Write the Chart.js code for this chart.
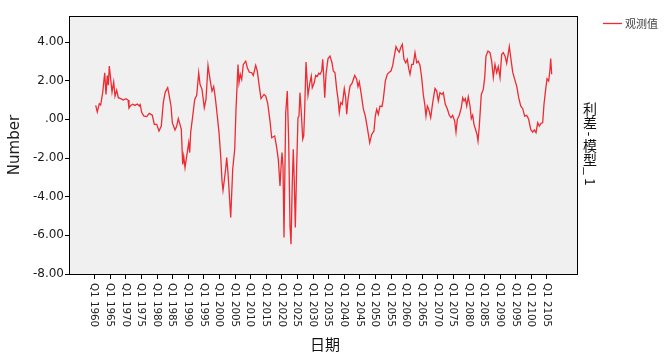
<!DOCTYPE html>
<html><head><meta charset="utf-8">
<script src="https://cdn.jsdelivr.net/npm/chart.js@4"></script>
<style>html,body{margin:0;padding:0;background:#fff}canvas{display:block}</style>
</head><body>
<canvas id="c" width="665" height="357"></canvas>
<script>
// ---- data ----
const years = [1960.33,1960.84,1961.48,1961.93,1962.57,1963.22,1963.63,1964.05,1964.37,1964.69,1965.14,1965.56,1966.1,1966.52,1967.06,1967.58,1968.34,1969.18,1970.04,1970.69,1971.0,1971.55,1972.19,1972.93,1973.67,1974.31,1974.53,1975.08,1975.81,1976.68,1977.51,1978.47,1979.12,1979.89,1980.62,1981.36,1982.0,1982.64,1983.41,1983.92,1984.47,1984.89,1985.75,1986.3,1986.81,1987.35,1987.77,1988.22,1988.54,1988.96,1989.5,1990.14,1990.46,1990.78,1991.43,1992.07,1992.71,1993.35,1993.77,1994.41,1995.14,1995.69,1996.33,1996.97,1997.61,1998.16,1998.67,1999.31,1999.86,2000.4,2000.82,2001.14,2001.46,2002.0,2002.32,2002.74,2003.61,2004.25,2004.89,2005.31,2005.95,2006.27,2006.68,2007.13,2007.65,2008.42,2008.93,2009.57,2010.34,2010.85,2011.62,2012.13,2012.68,2013.32,2014.28,2014.83,2015.47,2016.21,2016.75,2017.71,2018.35,2018.87,2019.41,2019.73,2020.05,2020.37,2020.69,2021.24,2021.75,2022.2,2022.62,2022.94,2023.35,2023.67,2024.0,2024.32,2024.76,2025.18,2025.5,2025.82,2026.24,2026.69,2027.01,2027.33,2027.75,2028.39,2029.03,2029.44,2029.76,2030.41,2030.85,2031.37,2031.82,2032.23,2032.78,2033.1,2033.42,2033.74,2034.16,2034.8,2035.44,2036.08,2036.5,2037.04,2037.59,2038.0,2038.42,2038.87,2039.38,2040.02,2040.47,2040.79,2041.21,2041.85,2042.49,2043.36,2044.0,2044.41,2044.83,2045.47,2046.11,2046.76,2047.4,2048.17,2048.81,2049.54,2049.96,2050.41,2050.92,2051.47,2052.11,2052.52,2053.17,2053.81,2054.45,2054.99,2055.54,2056.05,2056.6,2057.14,2057.65,2058.1,2058.62,2059.16,2059.71,2060.22,2060.67,2061.09,2061.63,2062.14,2062.69,2063.23,2063.74,2064.29,2064.83,2065.35,2065.8,2066.21,2066.63,2067.08,2067.72,2068.36,2069.1,2069.64,2070.16,2070.7,2071.34,2071.76,2072.4,2073.04,2073.68,2074.23,2074.77,2075.41,2075.83,2076.25,2076.89,2077.53,2077.98,2078.4,2078.81,2079.26,2079.77,2080.32,2080.74,2081.18,2081.6,2082.15,2082.56,2082.88,2083.3,2083.94,2084.58,2085.03,2085.45,2086.09,2086.73,2087.27,2087.79,2088.33,2088.88,2089.39,2089.94,2090.48,2091.0,2091.54,2092.08,2092.92,2093.46,2094.01,2094.65,2095.29,2095.93,2096.57,2097.21,2097.85,2098.49,2099.13,2099.78,2100.42,2100.93,2101.48,2102.02,2102.53,2103.08,2103.62,2104.04,2104.58,2105.0,2105.54,2105.96,2106.19,2106.51];
const values = [0.72,0.38,0.81,0.74,1.38,2.41,1.29,2.27,1.76,2.76,2.07,1.41,1.93,1.2,1.51,1.12,1.07,1.0,1.07,1.0,0.58,0.72,0.78,0.72,0.79,0.69,0.81,0.35,0.17,0.14,0.31,0.21,-0.26,-0.26,-0.6,-0.35,0.86,1.41,1.64,1.2,0.69,-0.17,-0.55,-0.35,0.04,-0.26,-0.52,-2.33,-1.9,-2.5,-1.9,-1.21,-1.72,-0.66,0.17,1.03,1.24,2.41,1.81,1.55,0.6,1.03,2.79,2.07,1.46,1.69,1.12,0.17,-0.69,-1.9,-3.19,-3.67,-3.27,-2.55,-1.98,-2.76,-5.08,-2.58,-1.55,0.52,2.84,1.9,2.33,2.07,2.84,3.01,2.67,2.44,2.41,2.27,2.79,2.5,1.81,1.07,1.29,1.2,0.83,-0.09,-0.95,-0.86,-1.46,-2.07,-3.45,-2.5,-1.72,-2.41,-6.11,0.35,1.46,-1.21,-5.51,-6.46,-3.27,-1.55,-3.27,-5.6,-2.41,0.09,0.17,1.38,0.35,-1.03,-0.86,0.52,2.96,1.24,1.93,2.24,1.64,1.9,2.27,2.21,2.38,2.33,2.5,3.1,2.24,1.12,2.33,3.14,3.27,2.93,2.5,2.41,1.55,1.07,0.35,0.86,0.78,1.59,1.12,0.26,1.03,1.72,1.86,2.27,2.07,1.69,1.93,1.29,0.55,0.17,-0.43,-1.21,-0.78,-0.6,0.17,0.52,0.26,0.69,0.66,1.03,1.98,2.33,2.44,2.5,2.79,3.27,3.76,3.58,3.48,3.7,3.88,3.1,2.93,3.1,2.62,2.33,2.84,2.84,3.45,2.93,3.01,2.79,2.16,1.29,0.78,0.17,0.69,0.52,0.09,0.86,1.59,1.46,0.95,1.38,1.29,1.38,0.78,0.55,0.21,0.09,0.21,-0.09,-0.66,0,0.21,0.6,1.12,0.95,1.07,0.69,1.17,0.69,0.04,0.21,-0.26,-0.55,-0.78,-1.12,-0.35,1.29,1.55,2.16,3.27,3.53,3.45,3.01,2.16,2.84,2.41,2.72,2.16,3.36,3.45,3.27,2.9,3.76,3.1,2.44,2.07,1.72,1.12,0.69,0.55,0.17,0.21,0,-0.52,-0.66,-0.55,-0.69,-0.17,-0.35,-0.21,-0.17,0.78,1.55,2.1,1.98,2.58,3.14,2.33];
const tickYears = [1960,1965,1970,1975,1980,1985,1990,1995,2000,2005,2010,2015,2020,2025,2030,2035,2040,2045,2050,2055,2060,2065,2070,2075,2080,2085,2090,2095,2100,2105];
const tickLabels = ['Q1 1960','Q1 1965','Q1 1970','Q1 1975','Q1 1980','Q1 1985','Q1 1990','Q1 1995','Q1 2000','Q1 2005','Q1 2010','Q1 2015','Q1 2020','Q1 2025','Q1 2030','Q1 2035','Q1 2040','Q1 2045','Q1 2050','Q1 2055','Q1 2060','Q1 2065','Q1 2070','Q1 2075','Q1 2080','Q1 2085','Q1 2090','Q1 2095','Q1 2100','Q1 2105'];
const yTickValues = [-8,-6,-4,-2,0,2,4];
const yTickLabels = ['-8.00','-6.00','-4.00','-2.00','.00','2.00','4.00'];
const seriesName = '观测值';
const xTitle = '日期';
const yTitle = 'Number';
const rightTitle = '利差-模型_1';

// ---- drawing ----
const LINE_COLOR = '#EE2A33';
const CJK = '"Noto Sans CJK SC", "Noto Sans CJK JP", sans-serif';
const points = years.map((x, i) => ({x: x, y: values[i]}));

const deco = {
  id: 'deco',
  beforeDraw(chart) {
    const {ctx, chartArea: a} = chart;
    ctx.save();
    ctx.fillStyle = '#ffffff';
    ctx.fillRect(0, 0, chart.width, chart.height);
    ctx.fillStyle = '#F0F0F0';
    ctx.fillRect(a.left, a.top, a.right - a.left, a.bottom - a.top);
    ctx.restore();
  },
  afterDraw(chart) {
    const {ctx, chartArea: a} = chart;
    const xs = chart.scales.x;
    ctx.save();
    // frame
    ctx.strokeStyle = '#000';
    ctx.lineWidth = 1;
    const l = Math.round(a.left) + 0.5, t = Math.round(a.top) + 0.5;
    const r = Math.round(a.right) + 0.5, b = Math.round(a.bottom) + 0.5;
    ctx.strokeRect(l, t, r - l, b - t);
    // rotated x tick labels (reading downward)
    ctx.fillStyle = '#222';
    ctx.font = '10.3px "DejaVu Sans", sans-serif';
    ctx.textAlign = 'left';
    ctx.textBaseline = 'middle';
    tickYears.forEach((v, i) => {
      const px = xs.getPixelForValue(v);
      ctx.save();
      ctx.translate(px - 0.5, a.bottom + 9);
      ctx.rotate(Math.PI / 2);
      ctx.fillText(tickLabels[i], 0, 0);
      ctx.restore();
    });
    // x title
    ctx.fillStyle = '#111';
    ctx.font = '15px ' + CJK;
    ctx.textAlign = 'center';
    ctx.textBaseline = 'middle';
    ctx.fillText(xTitle, 325, 344);
    // right vertical title
    ctx.font = '14px ' + CJK;
    const chars = Array.from(rightTitle);
    const isCJK = c => /[\u3400-\u9fff]/.test(c);
    const adv = chars.map(c => isCJK(c) ? 13.5 : (c === '1' ? 12 : 10));
    const total = adv.reduce((s, v) => s + v, 0);
    let y = (a.top + a.bottom) / 2 - total / 2;
    const cx = 590;
    chars.forEach((c, i) => {
      const cy = y + adv[i] / 2;
      ctx.save();
      ctx.translate(cx, cy);
      if (!isCJK(c)) ctx.rotate(Math.PI / 2);
      ctx.fillText(c, 0, 0);
      ctx.restore();
      y += adv[i];
    });
    // legend
    ctx.strokeStyle = LINE_COLOR;
    ctx.lineWidth = 1.3;
    ctx.beginPath();
    ctx.moveTo(603, 23.5);
    ctx.lineTo(622, 23.5);
    ctx.stroke();
    ctx.fillStyle = '#444';
    ctx.font = '11px ' + CJK;
    ctx.textAlign = 'left';
    ctx.fillText(seriesName, 625, 24);
    ctx.restore();
  }
};

new Chart(document.getElementById('c'), {
  type: 'line',
  data: {
    datasets: [{
      label: seriesName,
      data: points,
      borderColor: LINE_COLOR,
      borderWidth: 1.3,
      pointRadius: 0,
      tension: 0,
      fill: false
    }]
  },
  options: {
    responsive: false,
    animation: false,
    devicePixelRatio: 1,
    layout: {padding: {top: 16, right: 88, bottom: 0, left: 0}},
    plugins: {legend: {display: false}, tooltip: {enabled: false}},
    scales: {
      x: {
        type: 'linear',
        min: 1951.77,
        max: 2114.62,
        afterBuildTicks: s => { s.ticks = tickYears.map(v => ({value: v})); },
        afterFit: s => { s.height = 83; },
        ticks: {display: false},
        grid: {display: true, drawOnChartArea: false, drawTicks: true, tickLength: 5, color: '#000', lineWidth: 1},
        border: {display: true, color: '#000', width: 1}
      },
      y: {
        type: 'linear',
        min: -8,
        max: 5.345,
        afterBuildTicks: s => { s.ticks = yTickValues.map(v => ({value: v})); },
        afterFit: s => { s.width = 69; },
        ticks: {
          padding: 1,
          color: '#1a1a1a',
          font: {family: '"DejaVu Sans", sans-serif', size: 12},
          callback: (v) => { const i = yTickValues.indexOf(v); return i >= 0 ? yTickLabels[i] : ''; }
        },
        grid: {display: true, drawOnChartArea: false, drawTicks: true, tickLength: 4, color: '#000', lineWidth: 1},
        border: {display: true, color: '#000', width: 1},
        title: {
          display: true,
          text: yTitle,
          color: '#222',
          font: {family: '"DejaVu Sans", sans-serif', size: 15},
          padding: {top: 6.5, bottom: 0}
        }
      }
    }
  },
  plugins: [deco]
});
</script>
</body></html>
